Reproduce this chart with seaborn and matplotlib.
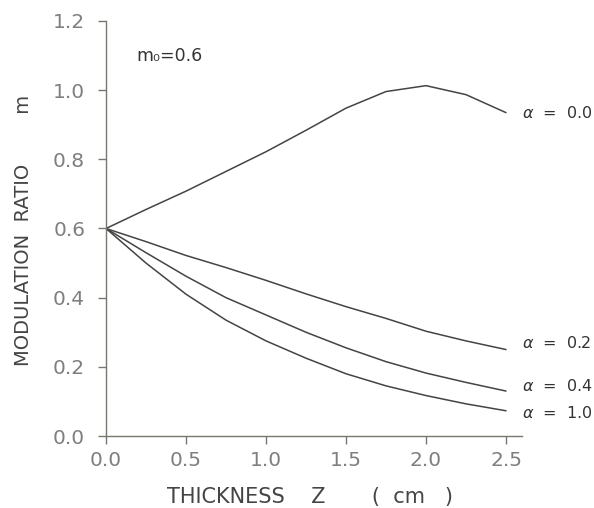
import numpy as np
import pandas as pd
import matplotlib
matplotlib.use("Agg")
import matplotlib.pyplot as plt
import seaborn as sns

# ---- data ----
thickness = [0.0, 0.25, 0.5, 0.75, 1.0, 1.25, 1.5, 1.75, 2.0, 2.25, 2.5]
m_alpha_00 = [0.600, 0.655, 0.708, 0.765, 0.822, 0.884, 0.948, 0.996, 1.013, 0.987, 0.935]
m_alpha_02 = [0.600, 0.562, 0.522, 0.487, 0.450, 0.411, 0.374, 0.340, 0.303, 0.275, 0.250]
m_alpha_04 = [0.600, 0.530, 0.462, 0.400, 0.350, 0.300, 0.255, 0.215, 0.182, 0.155, 0.130]
m_alpha_10 = [0.600, 0.500, 0.410, 0.335, 0.275, 0.225, 0.180, 0.145, 0.117, 0.093, 0.073]
alpha_labels = ["0.0", "0.2", "0.4", "1.0"]
label_y = [0.934, 0.269, 0.145, 0.0665]
x_ticks = [0.0, 0.5, 1.0, 1.5, 2.0, 2.5]
y_ticks = [0.0, 0.2, 0.4, 0.6, 0.8, 1.0, 1.2]

series = [m_alpha_00, m_alpha_02, m_alpha_04, m_alpha_10]
df = pd.concat(
    [pd.DataFrame({"Z": thickness, "m": s, "alpha": a}) for s, a in zip(series, alpha_labels)],
    ignore_index=True,
)

sns.set_style("ticks")
plt.rcParams["font.family"] = ["DejaVu Sans"]

fig = plt.figure(figsize=(5.94, 5.08), dpi=100)
ax = fig.add_axes([0.1785, 0.1417, 0.7003, 0.817])

line_col = "#444444"
sns.lineplot(data=df, x="Z", y="m", hue="alpha", units="alpha", estimator=None,
             palette=[line_col] * 4, linewidth=1.1, legend=False, ax=ax, sort=False)

ax.set_xlim(0, 2.6)
ax.set_ylim(0, 1.2)
ax.set_xticks(x_ticks)
ax.set_yticks(y_ticks)
ax.set_xticklabels([f"{t:.1f}" for t in x_ticks])
ax.set_yticklabels([f"{t:.1f}" for t in y_ticks])
sns.despine(ax=ax)

spine_col = "#77776e"
for sp in ("left", "bottom"):
    ax.spines[sp].set_color(spine_col)
    ax.spines[sp].set_linewidth(1.0)
ax.tick_params(axis="both", direction="out", length=6, width=1.0, color=spine_col,
               labelcolor="#7f7f7f", labelsize=14.5)
ax.tick_params(axis="y", pad=9)
ax.tick_params(axis="x", pad=5)

ax.set_xlabel("THICKNESS    Z       (  cm   )", fontsize=15, color="#444444")
ax.xaxis.set_label_coords(0.491, -0.122)
ax.set_ylabel("MODULATION  RATIO        m", fontsize=14, color="#444444")
ax.yaxis.set_label_coords(-0.175, 0.495)

ax.text(0.19, 1.10, "m₀=0.6", fontsize=12.5, color="#333333", va="center", ha="left")
for lab, yy in zip(alpha_labels, label_y):
    ax.text(2.6, yy, r"$\alpha$  =  " + lab, fontsize=11.5, color="#333333",
            va="center", ha="left", clip_on=False)

fig.savefig("out.png", dpi=100)
